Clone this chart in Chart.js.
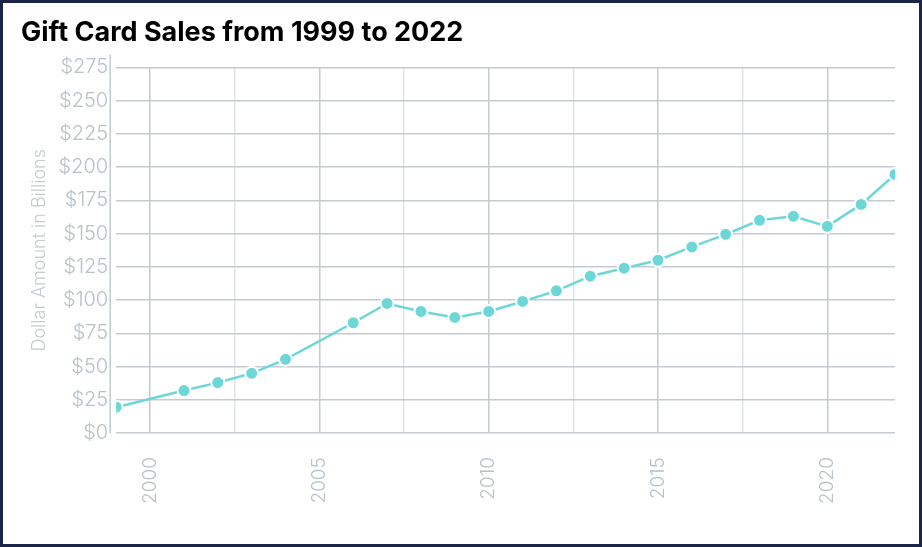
<!DOCTYPE html>
<html>
<head>
<meta charset="utf-8">
<script src="https://cdn.jsdelivr.net/npm/chart.js@4.4.1/dist/chart.umd.min.js"></script>
<style>
  html, body { margin: 0; padding: 0; background: #1b2548; }
  #wrap { position: absolute; left: 3px; top: 3px; width: 916px; height: 541px; background: #ffffff; }
  canvas { display: block; }
</style>
</head>
<body>
<div id="wrap"><canvas id="c" width="916" height="541"></canvas></div>
<script>
const years = [1999, 2001, 2002, 2003, 2004, 2006, 2007, 2008, 2009, 2010, 2011, 2012, 2013, 2014, 2015, 2016, 2017, 2018, 2019, 2020, 2021, 2022];
const sales = [19.5, 32, 38, 45, 55.5, 83, 97.5, 91.5, 87, 91.5, 99, 107, 118, 124, 130, 140, 149.5, 160, 163, 155.5, 172, 194.5];
const xGridValues = [2000, 2002.5, 2005, 2007.5, 2010, 2012.5, 2015, 2017.5, 2020];
const yTickStep = 25;
const yMax = 275;

const axisLinePlugin = {
  id: 'axisLine',
  afterDatasetsDraw(chart) {
    const { ctx, chartArea } = chart;
    ctx.save();
    ctx.strokeStyle = '#c3cbd0';
    ctx.lineWidth = 1.5;
    ctx.beginPath();
    const x = chartArea.left - 6;
    ctx.moveTo(x, chartArea.top - 13);
    ctx.lineTo(x, chartArea.bottom);
    ctx.stroke();
    ctx.restore();
  }
};

new Chart(document.getElementById('c'), {
  type: 'line',
  data: {
    datasets: [{
      data: years.map((y, i) => ({ x: y, y: sales[i] })),
      borderColor: '#6dd7d8',
      backgroundColor: '#6dd7d8',
      borderWidth: 2.5,
      pointRadius: 6.5,
      pointHoverRadius: 6.5,
      pointBorderColor: '#ffffff',
      pointBorderWidth: 2,
      pointBackgroundColor: '#6dd7d8',
      tension: 0
    }]
  },
  options: {
    responsive: false,
    animation: false,
    layout: { padding: { left: 18, right: 24, top: 8, bottom: 16 } },
    plugins: {
      legend: { display: false },
      tooltip: { enabled: false },
      title: {
        display: true,
        text: 'Gift Card Sales from 1999 to 2022',
        align: 'start',
        color: '#000000',
        font: { family: 'Inter', size: 27, weight: 'bold' },
        padding: { top: 6, bottom: 18 }
      }
    },
    scales: {
      x: {
        type: 'linear',
        min: 1999,
        max: 2022,
        afterBuildTicks: (scale) => { scale.ticks = xGridValues.map(v => ({ value: v })); },
        ticks: {
          autoSkip: false,
          maxRotation: 90,
          minRotation: 90,
          padding: 24,
          color: '#b7c1c7',
          font: { family: 'Inter', size: 19, weight: 300 },
          callback: (v) => (v % 5 === 0 ? String(v) : '')
        },
        grid: {
          drawTicks: false,
          lineWidth: 1.5,
          color: (ctx) => (ctx.tick && ctx.tick.value % 5 === 0 ? '#c3cbd0' : '#e1e5e8')
        },
        border: { display: false }
      },
      y: {
        min: 0,
        max: yMax,
        ticks: {
          stepSize: yTickStep,
          padding: 8,
          color: '#b7c1c7',
          font: { family: 'Inter', size: 20, weight: 300 },
          callback: (v) => '$' + v
        },
        grid: { drawTicks: false, lineWidth: 1.5, color: '#c3cbd0' },
        border: { display: false },
        title: {
          display: true,
          text: 'Dollar Amount in Billions',
          color: '#c3cbd0',
          font: { family: 'Inter', size: 18, weight: 300 },
          padding: { top: 8, bottom: 0 }
        }
      }
    }
  },
  plugins: [axisLinePlugin]
});
</script>
</body>
</html>
